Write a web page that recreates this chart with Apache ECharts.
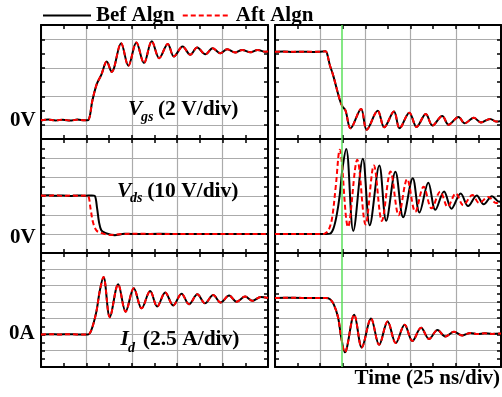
<!DOCTYPE html>
<html><head><meta charset="utf-8">
<script src="https://cdn.jsdelivr.net/npm/echarts@6/dist/echarts.min.js"></script>
<style>html,body{margin:0;padding:0;background:#fff}#c{width:502px;height:397px}</style>
</head><body><div id="c"></div>
<script>
// ---------- data (time in ns, 25 ns/div) ----------
const seriesNames = ['Bef Algn', 'Aft Algn'];
const timeTicks = [0, 125, 25];          // min, max, interval (ns)
const vgsTicks = [-1, 7, 2];             // V, 2 V/div
const vdsTicks = [-10, 50, 10];          // V, 10 V/div
const idTicks = [-5, 12.5, 2.5];         // A, 2.5 A/div
const markerTime = 36.8;                 // green cursor (ns)

// Vgs turn-on (left) – both traces overlap
const vgsOnBef = [[0,0.30],[4,0.36],[8,0.30],[12,0.35],[16,0.29],[20,0.36],[24,0.31],[26.0,0.33],[28.3,1.7],[30.7,2.85],[33.2,3.5],[36.2,4.44],[38.9,3.7],[44.1,5.72],[48.1,4.14],[52.5,5.77],[56.7,4.33],[61.0,5.86],[65.1,4.67],[69.8,5.67],[73.2,4.79],[78.0,5.49],[82.2,4.91],[86.0,5.42],[90.5,4.95],[94.5,5.37],[98.8,5.02],[102.5,5.30],[107.0,5.07],[110.8,5.25],[115.3,5.09],[119.3,5.25],[123.5,5.12],[125,5.16]];
const vgsOnAft = [[0,0.31],[4,0.35],[8,0.31],[12,0.35],[16,0.30],[20,0.35],[24,0.31],[26.0,0.33],[28.3,1.7],[30.7,2.85],[33.2,3.5],[36.2,4.44],[38.9,3.7],[44.1,5.72],[48.1,4.14],[52.5,5.77],[56.7,4.33],[61.0,5.86],[65.1,4.67],[69.8,5.67],[73.2,4.79],[78.0,5.49],[82.2,4.91],[86.0,5.42],[90.5,4.95],[94.5,5.37],[98.8,5.02],[102.5,5.30],[107.0,5.07],[110.8,5.25],[115.3,5.09],[119.3,5.25],[123.5,5.12],[125,5.16]];
// Vgs turn-off (right)
const vgsOffBef = [[0,5.12],[5,5.14],[10,5.11],[15,5.13],[20,5.11],[25,5.13],[28.0,5.15],[28.8,5.0],[30.3,4.2],[32.1,3.5],[35.8,1.76],[37.3,1.29],[39.0,1.0],[41.8,-0.25],[47.6,1.11],[50.7,-0.35],[56.8,0.98],[60.4,-0.18],[65.8,0.93],[68.9,-0.25],[74.3,0.85],[78.3,-0.15],[83.4,0.76],[87.1,-0.06],[92.5,0.62],[96.0,0.0],[101.5,0.55],[104.9,0.1],[110.0,0.49],[113.9,0.16],[119.0,0.41],[122.5,0.22],[125,0.27]];
const vgsOffAft = [[0,5.12],[5,5.13],[10,5.12],[15,5.12],[20,5.12],[25,5.13],[28.0,5.15],[28.8,5.0],[30.3,4.2],[32.1,3.5],[35.8,1.76],[37.3,1.29],[39.0,1.0],[41.8,-0.25],[47.6,1.11],[50.7,-0.35],[56.8,0.98],[60.4,-0.18],[65.8,0.93],[68.9,-0.25],[74.3,0.85],[78.3,-0.15],[83.4,0.76],[87.1,-0.06],[92.5,0.62],[96.0,0.0],[101.5,0.55],[104.9,0.1],[110.0,0.49],[113.9,0.16],[119.0,0.41],[122.5,0.22],[125,0.27]];
// Vds turn-on (left)
const vdsOnBef = [[0,20.2],[4,20.4],[8,20.1],[12,20.3],[16,20.0],[20,20.3],[24,20.1],[28,20.3],[29.6,20.1],[30.9,13.5],[31.9,6.5],[33.2,2.0],[35.1,0.7],[40.6,-0.7],[46,0.1],[55,0],[65,0.1],[80,0],[100,0],[125,0]];
const vdsOnAft = [[0,20.3],[4,20.1],[8,20.4],[12,20.0],[16,20.3],[20,20.1],[24,20.2],[25.9,20.0],[27.3,13.3],[28.6,6.3],[30.5,1.9],[33,0.6],[38,-0.5],[45,0],[55,0.1],[65,0],[80,0],[100,0],[125,0]];
// Vds turn-off (right)
const vdsOffBef = [[0,0],[10,0],[20,0],[28,0],[30.5,0.2],[32.3,2.8],[34.1,9.8],[35.8,20.5],[37.4,35],[39.4,44.8],[43.3,1.6],[48.6,39.6],[52.4,4.6],[57.7,36.0],[61.5,7.0],[66.6,32.8],[70.9,8.8],[76.2,29.4],[79.9,11.3],[84.8,27.0],[88.7,12.7],[93.5,22.4],[97.6,13.3],[102.7,21.3],[106.8,14.7],[111.6,20.3],[115.4,15.6],[120.0,19.9],[124,17.0],[125,17.3]];
const vdsOffAft = [[0,0],[10,0],[20,0],[26,0],[27.5,0.2],[29.5,1.8],[31.5,8],[33.6,25],[35.8,44.4],[40.4,3.7],[45.5,39.1],[50.1,5.0],[54.7,36.1],[59.1,6.9],[63.9,32.9],[68.4,9.9],[73.1,28.9],[77.6,11.7],[82.2,24.9],[86.6,13.5],[91.4,22.3],[95.5,14.3],[100,21.4],[104.1,15.2],[109.2,20.5],[112.9,16.3],[118,19.5],[122.3,16.3],[125,17.0]];
// Id turn-on (left)
const idOnBef = [[0,0],[5,0.02],[10,0],[15,0.02],[20,0],[25.9,0],[27.7,0.64],[30.5,3.5],[32.3,6.6],[34.4,8.8],[37.9,2.65],[42.5,7.7],[46.6,3.5],[51.1,7.1],[55.4,4.0],[60.1,6.65],[64.0,4.28],[68.4,6.45],[72.8,4.45],[77.4,6.25],[81.5,4.63],[86.1,6.15],[90.3,4.78],[94.8,6.05],[98.9,4.9],[103.6,5.97],[107.7,5.03],[112.4,5.82],[116.5,5.16],[121,5.76],[125,5.6]];
const idOnAft = [[0,0],[5,0.02],[10,0],[15,0.02],[20,0],[25.9,0],[27.7,0.64],[30.5,3.5],[32.3,6.6],[34.4,8.8],[37.9,2.65],[42.5,7.7],[46.6,3.5],[51.1,7.1],[55.4,4.0],[60.1,6.65],[64.0,4.28],[68.4,6.45],[72.8,4.45],[77.4,6.25],[81.5,4.63],[86.1,6.15],[90.3,4.78],[94.8,6.05],[98.9,4.9],[103.6,5.97],[107.7,5.03],[112.4,5.82],[116.5,5.16],[121,5.76],[125,5.6]];
// Id turn-off (right)
const idOffBef = [[0,5.6],[10,5.62],[20,5.6],[28,5.6],[30.3,5.45],[32.5,4.6],[34.9,2.6],[36.6,-0.4],[38.6,-2.75],[43.8,3.03],[48.0,-2.0],[53.1,2.45],[57.6,-1.6],[62.3,2.0],[66.8,-1.33],[71.7,1.5],[76.0,-1.0],[80.8,1.02],[85.2,-0.69],[89.9,0.67],[94.2,-0.31],[99.0,0.41],[103.6,-0.15],[108.1,0.23],[112,0.05],[116,0.18],[120,0.08],[125,0.15]];
const idOffAft = [[0,5.6],[10,5.62],[20,5.6],[28,5.6],[30.3,5.45],[32.5,4.6],[34.9,2.6],[36.6,-0.4],[38.6,-2.75],[43.8,3.03],[48.0,-2.0],[53.1,2.45],[57.6,-1.6],[62.3,2.0],[66.8,-1.33],[71.7,1.5],[76.0,-1.0],[80.8,1.02],[85.2,-0.69],[89.9,0.67],[94.2,-0.31],[99.0,0.41],[103.6,-0.15],[108.1,0.23],[112,0.05],[116,0.18],[120,0.08],[125,0.15]];

// ---------- layout ----------
const FONT = '"Liberation Serif", "Times New Roman", serif';
const GRIDC = '#ababab';
const colLeft = [41, 275], colWidth = [227, 226];
const rowTop = [25, 139, 253], rowH = 114;
const panels = [
  {row:0,col:0,ticks:vgsTicks,bef:vgsOnBef,aft:vgsOnAft,minorGrid:true},
  {row:0,col:1,ticks:vgsTicks,bef:vgsOffBef,aft:vgsOffAft,minorGrid:true,marker:true},
  {row:1,col:0,ticks:vdsTicks,bef:vdsOnBef,aft:vdsOnAft},
  {row:1,col:1,ticks:vdsTicks,bef:vdsOffBef,aft:vdsOffAft,marker:true},
  {row:2,col:0,ticks:idTicks,bef:idOnBef,aft:idOnAft},
  {row:2,col:1,ticks:idTicks,bef:idOffBef,aft:idOffAft,marker:true}
];

const mkTick = () => ({show:true, inside:true, length:4, lineStyle:{color:'#000', width:1.5}});
const mkMinor = () => ({show:true, splitNumber:2, length:4, lineStyle:{color:'#000', width:1.5}});
const mkLine = () => ({show:true, onZero:false, lineStyle:{color:'#000', width:2}});
const mkSplit = (show) => ({show:show, lineStyle:{color:GRIDC, width:1.2, type:'solid'}});

const grid = [], xAxis = [], yAxis = [], series = [];
panels.forEach((p, i) => {
  grid.push({left:colLeft[p.col], top:rowTop[p.row], width:colWidth[p.col], height:rowH, show:false});
  xAxis.push({type:'value', gridIndex:i, position:'bottom', min:timeTicks[0], max:timeTicks[1], interval:timeTicks[2],
    axisLine:mkLine(), axisLabel:{show:false}, axisTick:mkTick(), minorTick:mkMinor(),
    splitLine:mkSplit(true), z:1});
  xAxis.push({type:'value', gridIndex:i, position:'top', min:timeTicks[0], max:timeTicks[1], interval:timeTicks[2],
    axisLine:mkLine(), axisLabel:{show:false}, axisTick:mkTick(), minorTick:mkMinor(), splitLine:mkSplit(false), z:1});
  yAxis.push({type:'value', gridIndex:i, position:'left', min:p.ticks[0], max:p.ticks[1], interval:p.ticks[2],
    axisLine:mkLine(), axisLabel:{show:false}, axisTick:mkTick(), minorTick:mkMinor(),
    splitLine:mkSplit(!p.minorGrid), minorSplitLine:mkSplit(!!p.minorGrid), z:1});
  yAxis.push({type:'value', gridIndex:i, position:'right', min:p.ticks[0], max:p.ticks[1], interval:p.ticks[2],
    axisLine:mkLine(), axisLabel:{show:false}, axisTick:mkTick(), minorTick:mkMinor(), splitLine:mkSplit(false), z:1});
  const bef = {name:seriesNames[0], type:'line', xAxisIndex:2*i, yAxisIndex:2*i, data:p.bef,
    symbol:'none', smooth:0.35, lineStyle:{color:'#000', width:2}, itemStyle:{color:'#000'}, z:3};
  if (p.marker) {
    bef.markLine = {silent:true, symbol:['none','none'], label:{show:false}, animation:false,
      lineStyle:{color:'#5be05b', width:1.5, type:'solid', opacity:1}, data:[{xAxis:markerTime}]};
  }
  series.push(bef);
  series.push({name:seriesNames[1], type:'line', xAxisIndex:2*i, yAxisIndex:2*i, data:p.aft,
    symbol:'none', smooth:0.35, lineStyle:{color:'#ff0000', width:2, type:[5,3]}, itemStyle:{color:'#ff0000'}, z:4});
});

const txt = (x, y, text, font, align) => ({type:'text', x, y, silent:true, z:10,
  style:{text, font, fill:'#000', align:align||'left', verticalAlign:'middle'}});
const B = 'bold 21px ' + FONT, BA = 'bold 21.5px ' + FONT, BI = 'italic bold 21.5px ' + FONT, SUB = 'italic bold 14px ' + FONT;

const option = {
  animation:false,
  backgroundColor:'#fff',
  legend:{data:seriesNames, left:42, top:5, padding:0, itemWidth:48, itemHeight:14, itemGap:7,
    itemStyle:{opacity:0},
    textStyle:{fontFamily:FONT, fontWeight:'bold', fontSize:21, color:'#000'}},
  grid, xAxis, yAxis, series,
  graphic:[
    txt(10, 121, '0V', B), txt(10, 238, '0V', B), txt(9, 334, '0A', B),
    txt(128, 109, 'V', BI), txt(141, 117, 'gs', SUB), txt(238.5, 109, '(2 V/div)', BA, 'right'),
    txt(117, 191.5, 'V', BI), txt(130, 198, 'ds', SUB), txt(238.5, 191.5, '(10 V/div)', BA, 'right'),
    txt(120.5, 339, 'I', BI), txt(128, 348, 'd', SUB), txt(239.5, 339, '(2.5 A/div)', BA, 'right'),
    txt(500, 379, 'Time (25 ns/div)', B, 'right')
  ]
};
const chart = echarts.init(document.getElementById('c'));
chart.setOption(option);
</script></body></html>
